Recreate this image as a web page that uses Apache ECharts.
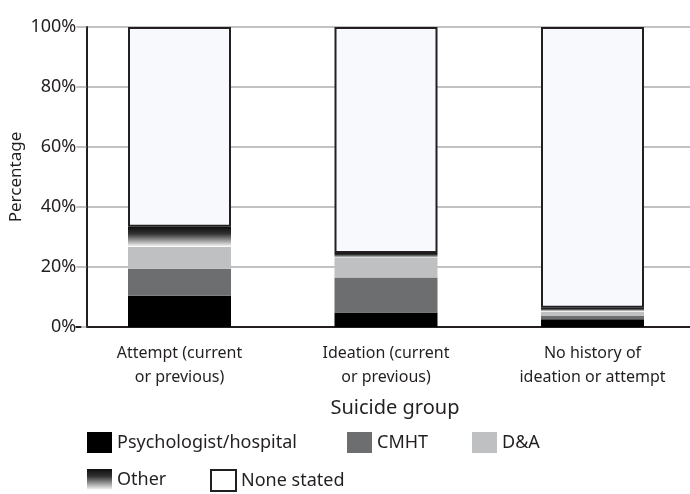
<!DOCTYPE html>
<html>
<head>
<meta charset="utf-8">
<script src="https://cdn.jsdelivr.net/npm/echarts@6/dist/echarts.min.js"></script>
<style>html,body{margin:0;padding:0;background:#fff}#c{width:690px;height:494px}</style>
</head>
<body>
<div id="c"></div>
<script>
const categories = ['Attempt (current\nor previous)', 'Ideation (current\nor previous)', 'No history of\nideation or attempt'];
const psychologist = [10.4, 4.8, 2.6];
const cmht = [9.0, 11.7, 1.1];
const dna = [7.3, 6.5, 1.5];
const other = [6.7, 1.7, 1.2];
const noneStated = [66.6, 75.3, 93.6];
const yTicks = [0, 20, 40, 60, 80, 100];

const font = 'Noto Sans';
const txt = '#231f20';
const otherGrad = new echarts.graphic.LinearGradient(0, 0, 0, 1, [
  {offset: 0, color: '#0d0d0d'},
  {offset: 0.35, color: '#333333'},
  {offset: 0.9, color: '#dcdcdc'},
  {offset: 1, color: '#ffffff'}
]);
const BW = 103;
const chart = echarts.init(document.getElementById('c'), null, {renderer: 'canvas'});
function legendItem(name, left, top) {
  return {
    left: left, top: top, itemWidth: 25, itemHeight: 21, itemGap: 0, padding: 0,
    data: [name], selectedMode: false, icon: 'rect',
    textStyle: {fontFamily: font, fontSize: 18, color: txt}
  };
}
chart.setOption({
  animation: false,
  textStyle: {fontFamily: font},
  grid: {left: 76.25, width: 619.5, top: 27, bottom: 167, containLabel: false, outerBoundsMode: 'none'},
  legend: [
    legendItem('Psychologist/hospital', 87, 432),
    legendItem('CMHT', 347, 432),
    legendItem('D&A', 472, 432),
    legendItem('Other', 87, 469),
    Object.assign(legendItem('None stated', 210, 469), {data: [{name: 'None stated', itemStyle: {color: '#ffffff', borderColor: txt, borderWidth: 2}}]})
  ],
  xAxis: {
    type: 'category', data: categories,
    axisLine: {lineStyle: {color: txt, width: 2}},
    axisTick: {show: false},
    axisLabel: {color: txt, fontSize: 16, lineHeight: 24, margin: 14, fontFamily: font},
    name: 'Suicide group', nameLocation: 'middle', nameGap: 71, nameMoveOverlap: false,
    nameTextStyle: {color: txt, fontSize: 20, fontFamily: font, padding: [0, 0, 0, 18]}
  },
  yAxis: {
    type: 'value', min: 0, max: 100, interval: 20, offset: -10,
    axisLine: {show: true, lineStyle: {color: txt, width: 2}},
    axisTick: {show: true, length: 5, lineStyle: {color: '#c2c2c2', width: 2}},
    splitLine: {lineStyle: {color: '#c2c2c2', width: 2}},
    axisLabel: {color: txt, fontSize: 18, margin: 10, formatter: '{value}%', fontFamily: font},
    name: 'Percentage', nameLocation: 'middle', nameGap: 62, nameRotate: 90, nameMoveOverlap: false,
    nameTextStyle: {color: txt, fontSize: 17, fontFamily: font}
  },
  series: [
    {name: 'Psychologist/hospital', type: 'bar', stack: 's', barWidth: BW, data: psychologist, itemStyle: {color: '#000000'}},
    {name: 'CMHT', type: 'bar', stack: 's', barWidth: BW, data: cmht, itemStyle: {color: '#6d6e70'}},
    {name: 'D&A', type: 'bar', stack: 's', barWidth: BW, data: dna, itemStyle: {color: '#bfc0c2'}},
    {name: 'Other', type: 'bar', stack: 's', barWidth: BW, data: other, itemStyle: {color: otherGrad}},
    {name: 'None stated', type: 'bar', stack: 's', barWidth: BW, data: noneStated, itemStyle: {color: '#f8f9fd', borderColor: txt, borderWidth: 2}}
  ]
});
</script>
</body>
</html>
